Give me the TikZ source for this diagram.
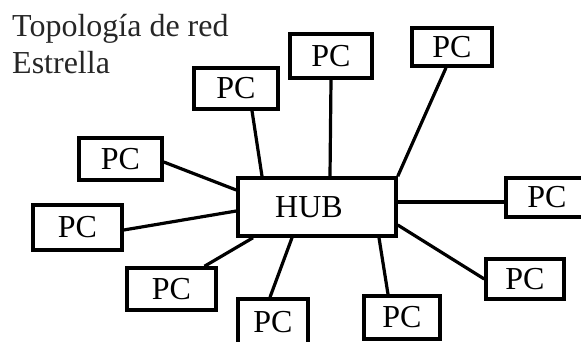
\documentclass[tikz,border=0pt]{standalone}
\usepackage{fontspec}
\setmainfont{Liberation Serif}
\usetikzlibrary{calc}
\pgfdeclarelayer{paper}
\pgfdeclarelayer{wires}
\pgfsetlayers{paper,wires,main}
\tikzset{
  pcbox/.style={draw=black, line width=3.5pt, fill=white, rectangle, inner sep=0pt,
    font=\fontsize{32}{38}\selectfont},
  link/.style={draw=black, line width=3.2pt},
  titletext/.style={anchor=base west, inner sep=0pt, text=black!85,
    font=\fontsize{32}{38}\selectfont}
}
\begin{document}
\begin{tikzpicture}[x=1pt, y=-1pt]
\path[use as bounding box, clip] (0,0) rectangle (581,342);
\begin{pgfonlayer}{paper}
\fill[white] (0,0) rectangle (581,342);
\end{pgfonlayer}

\node[titletext] (t1) at (12,37) {Topología de red};
\node[titletext] (t2) at (12,74) {Estrella};

\node[pcbox, minimum width=158pt, minimum height=58pt] (hub) at (317,207) {\hspace*{-16pt}HUB};

\node[pcbox, minimum width=84pt, minimum height=41pt] (p1) at (236,88.5) {PC};
\node[pcbox, minimum width=82pt, minimum height=44pt] (p2) at (331,56) {PC};
\node[pcbox, minimum width=80pt, minimum height=38pt] (p3) at (452,47) {PC};
\node[pcbox, minimum width=83pt, minimum height=42pt] (p4) at (120.5,159) {PC};
\node[pcbox, minimum width=89pt, minimum height=45pt] (p5) at (77.5,227.5) {PC};
\node[pcbox, minimum width=89pt, minimum height=42pt] (p6) at (171.5,289) {PC};
\node[pcbox, minimum width=70pt, minimum height=46pt] (p7) at (273,322) {PC};
\node[pcbox, minimum width=76pt, minimum height=43pt] (p8) at (402,317.5) {PC};
\node[pcbox, minimum width=78pt, minimum height=40pt] (p9) at (525,279) {PC};
\node[pcbox, minimum width=82pt, minimum height=39pt] (p10) at (547,197.5) {PC};

\begin{pgfonlayer}{wires}
\draw[link] ([xshift=16pt]p1.south) -- ([xshift=-55pt]hub.north);
\draw[link] (p2.south) -- ([xshift=13pt]hub.north);
\draw[link] ([xshift=-6pt]p3.south) -- (hub.north east);
\draw[link] ([yshift=-3pt]p4.east) -- ([yshift=17pt]hub.west);
\draw[link] ([yshift=-2.5pt]p5.east) -- ([yshift=-4pt]hub.west);
\draw[link] ([xshift=33pt]p6.north) -- ([xshift=-64pt]hub.south);
\draw[link] ([xshift=-3pt]p7.north) -- ([xshift=-25pt]hub.south);
\draw[link] ([xshift=-14pt]p8.north) -- ([xshift=62pt]hub.south);
\draw[link] (p9.west) -- ([yshift=-18pt]hub.east);
\draw[link] ([yshift=-4.5pt]p10.west) -- ([yshift=5pt]hub.east);
\end{pgfonlayer}
\end{tikzpicture}
\end{document}
